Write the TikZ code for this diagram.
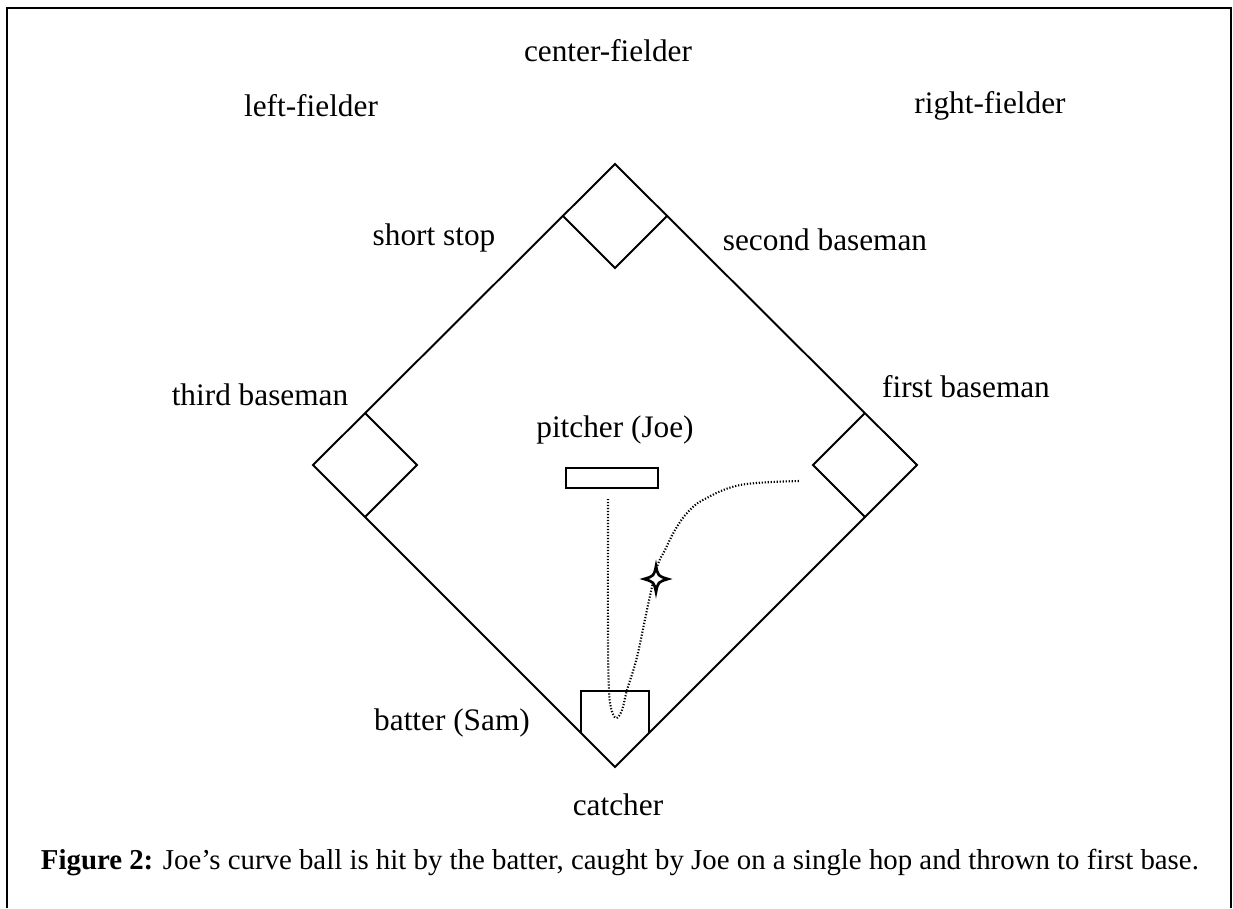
\documentclass[tikz,border=0pt]{standalone}
\usepackage{fontspec}
\setmainfont{Liberation Serif}
\begin{document}
\begin{tikzpicture}[x=0.01cm,y=-0.01cm,font=\fontsize{8.9}{10}\selectfont,line width=.55pt,
  lbl/.style={anchor=base,inner sep=0pt},
  ballpath/.style={line width=.6pt,dash pattern=on .35pt off .5pt}]
\useasboundingbox (0,0) rectangle (1233,908);
\draw (7,908) -- (7,8) -- (1231,8) -- (1231,908);
% field and bases
\draw (615,164) -- (917,465) -- (615,767) -- (313,465) -- cycle;
\draw (563,216) -- (615,268) -- (667,216);
\draw (365,413) -- (417,465) -- (365,517);
\draw (865,413) -- (813,465) -- (865,517);
\draw (581,733) -- (581,691) -- (649,691) -- (649,733);
\draw (566,468) rectangle (658,488);
% the ball
\draw[ballpath] plot[smooth,tension=.6] coordinates {(608,499) (608,640) (609,690) (611,708) (616,718) (622,710) (627,690) (637,657) (648,605) (657,567) (665,550) (675,530) (687,513) (703,500) (740,485) (800,481)};
\draw[fill=white,line width=.75pt] (656,566) .. controls (658,576) .. (668,579) .. controls (658,582) .. (656,592) .. controls (654,582) .. (644,579) .. controls (654,576) .. cycle;
% players
\node[lbl] (cf) at (608,61) {center-fielder};
\node[lbl] (lf) at (311,116) {left-fielder};
\node[lbl] (rf) at (990,113) {right-fielder};
\node[lbl] (ss) at (434,245) {short stop};
\node[lbl] (sb) at (825,250) {second baseman};
\node[lbl] (tb) at (260,405) {third baseman};
\node[lbl] (fb) at (966,397) {first baseman};
\node[lbl] (pitcher) at (615,437) {pitcher (Joe)};
\node[lbl] (batter) at (452,730) {batter (Sam)};
\node[lbl] (catcher) at (618,815) {catcher};
\node[lbl,anchor=base west,font=\fontsize{8.2}{10}\selectfont] (cap) at (40,869) {\textbf{Figure 2:} Joe’s curve ball is hit by the batter, caught by Joe on a single hop and thrown to first base.};
\end{tikzpicture}
\end{document}
